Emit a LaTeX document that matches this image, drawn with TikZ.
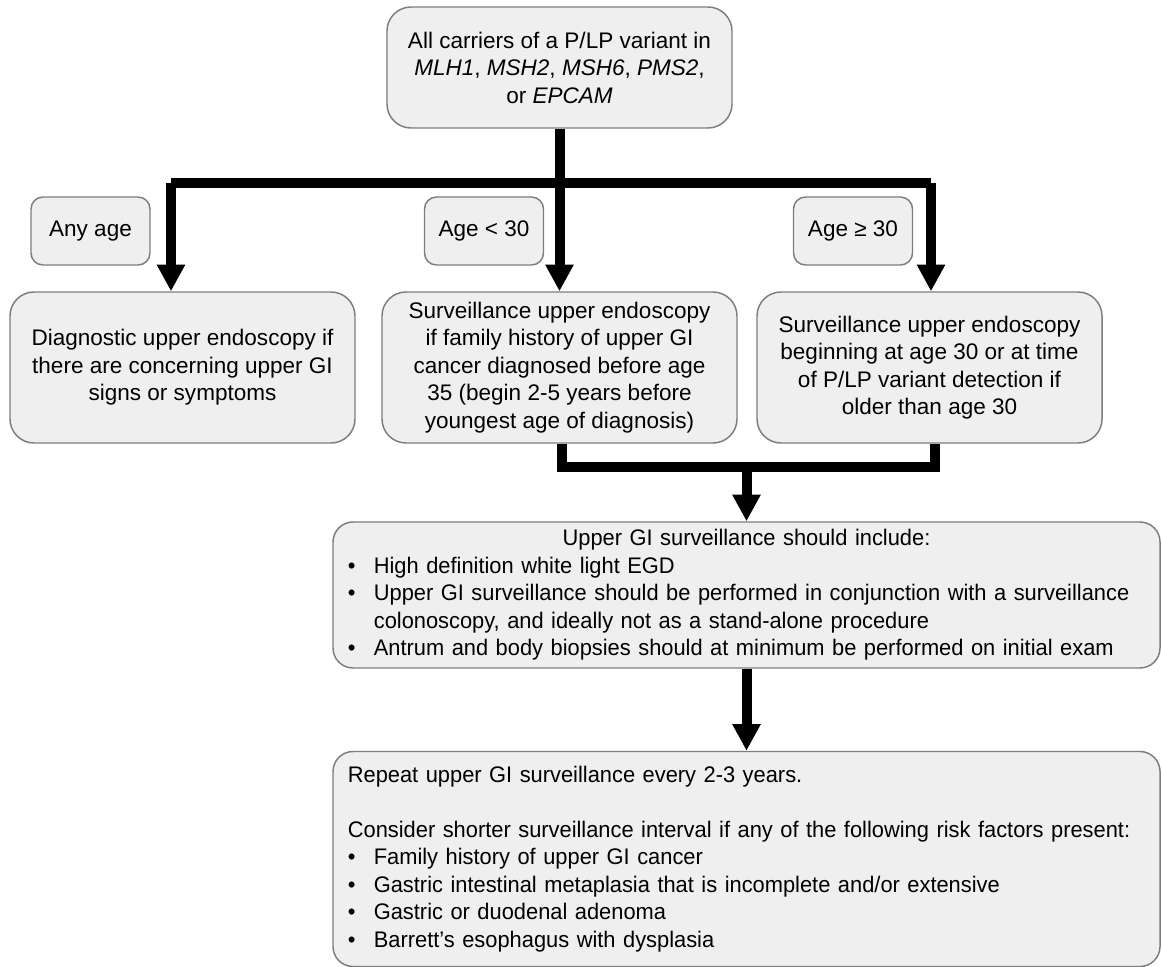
\documentclass[tikz,border=0pt]{standalone}
\usepackage{fontspec}
\setmainfont{Liberation Sans}
\newfontfamily\narrowfont[FakeStretch=0.97]{Liberation Sans}
\usetikzlibrary{arrows.meta}
\definecolor{boxfill}{RGB}{239,239,239}
\definecolor{boxline}{RGB}{125,125,125}
\newcommand{\itm}{\makebox[19.5pt][l]{\textbullet}}

\begin{document}
\begin{tikzpicture}[x=0.75pt,y=-0.75pt,
  box/.style={draw=boxline,line width=1.1pt,fill=boxfill,rounded corners=18pt,
    align=center,inner xsep=9pt,inner ysep=4pt,
    font=\fontsize{16.9pt}{20.6pt}\selectfont},
  agebox/.style={box,rounded corners=9pt,minimum width=89.25pt,minimum height=51pt},
  rowbox/.style={box,minimum width=258.75pt,minimum height=113.25pt},
  widebox/.style={box,rounded corners=15pt,align=left,inner xsep=11pt,
    font=\narrowfont\fontsize{16.9pt}{20.6pt}\selectfont,
    minimum width=620.25pt,text width=598pt},
  flow/.style={line width=7.5pt,line join=miter,-{Triangle[width=20pt,length=20pt]}},
  bar/.style={line width=8pt,line join=miter}]
  \useasboundingbox (0,0) rectangle (1162,966);
  \node[box,minimum width=258.75pt,minimum height=90.75pt] (carriers) at (559.5,67.5)
    {All carriers of a P/LP variant in\\\textit{MLH1}, \textit{MSH2}, \textit{MSH6}, \textit{PMS2},\\or \textit{EPCAM}};
  \node[agebox] (anyage) at (90.5,231) {Any age};
  \node[agebox] (young) at (484,231) {Age < 30};
  \node[agebox] (old) at (853,231) {Age ≥ 30};
  \node[rowbox] (diag) at (182.5,367.5)
    {Diagnostic upper endoscopy if\\there are concerning upper GI\\signs or symptoms};
  \node[rowbox,minimum width=266.25pt] (survA) at (559.5,367.5)
    {Surveillance upper endoscopy\\if family history of upper GI\\cancer diagnosed before age\\35 (begin 2-5 years before\\youngest age of diagnosis)};
  \node[rowbox] (survB) at (929.5,367.5)
    {Surveillance upper endoscopy\\beginning at age 30 or at time\\of P/LP variant detection if\\older than age 30};
  \node[widebox,minimum height=109.5pt] (include) at (746.5,595)
    {\makebox[598pt]{Upper GI surveillance should include:}\\
     \itm High definition white light EGD\\
     \itm Upper GI surveillance should be performed in conjunction with a surveillance\\
     \hspace*{19.5pt}colonoscopy, and ideally not as a stand-alone procedure\\
     \itm Antrum and body biopsies should at minimum be performed on initial exam};
  \node[widebox,minimum height=161.25pt] (repeat) at (746.5,859)
    {Repeat upper GI surveillance every 2-3 years.\\[20.6pt]
     Consider shorter surveillance interval if any of the following risk factors present:\\
     \itm Family history of upper GI cancer\\
     \itm Gastric intestinal metaplasia that is incomplete and/or extensive\\
     \itm Gastric or duodenal adenoma\\
     \itm Barrett’s esophagus with dysplasia};
  % branch points
  \coordinate (barL) at (171,183);
  \coordinate (barR) at (931,183);
  \coordinate (joinL) at (562,467);
  \coordinate (joinR) at (935,467);
  \coordinate (joinM) at (746.5,467);
  \draw[flow] (carriers.south) -- (survA.north);
  \draw[bar] (barL) -- (barR);
  \draw[flow] (barL) -- (barL |- diag.north);
  \draw[flow] (barR) -- (barR |- survB.north);
  \draw[bar] (joinL |- survA.south) -- (joinL) -- (joinR) -- (joinR |- survB.south);
  \draw[flow] (joinM) -- (include.north);
  \draw[flow] (include.south) -- (repeat.north);
\end{tikzpicture}
\end{document}
